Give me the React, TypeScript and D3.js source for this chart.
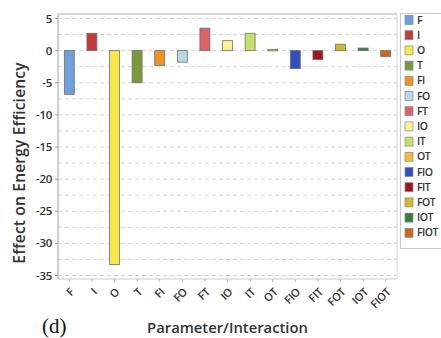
import React from "react";
import * as d3 from "d3";

const categories = ["F","I","O","T","FI","FO","FT","IO","IT","OT","FIO","FIT","FOT","IOT","FIOT"];
const effects = [-6.8, 2.7, -33.3, -5.0, -2.3, -1.8, 3.5, 1.55, 2.7, 0.2, -2.8, -1.4, 1.0, 0.4, -0.9];
const colors = ["#6f9fd8","#c4393c","#f8e748","#7a9a3a","#f0921e","#b8d8e8","#e0606a","#f8f48c","#c3e06a","#f5b945","#2f4fbf","#a0151c","#d4b92a","#3a7a45","#d0671a"];
const yTicks = [5, 0, -5, -10, -15, -20, -25, -30, -35];
const gridValues = [5, 2.5, 0, -2.5, -5, -7.5, -10, -12.5, -15, -17.5, -20, -22.5, -25, -27.5, -30, -32.5, -35];

const W = 441, H = 338;
const left = 58, right = 397, top = 14, bottom = 279;
const font = "'Open Sans', 'Noto Sans', sans-serif";

export default function App() {
  const x = d3.scaleBand<string>().domain(categories).range([left, right]).paddingInner(0.56).paddingOuter(0.28);
  const y = d3.scaleLinear().domain([-35, 5]).range([275.5, 18.5]);
  return (
    <svg width={W} height={H} style={{ position: "absolute", left: 0, top: 0, background: "#fff" }}>
      <rect x={0} y={0} width={W} height={H} fill="#fff" />
      {gridValues.map((v) => (
        <line key={"g" + v} x1={left} x2={right} y1={y(v)} y2={y(v)} stroke="#d4d4d4" strokeWidth={1} strokeDasharray="4,3" />
      ))}
      <line x1={left} x2={right} y1={top} y2={top} stroke="#c8c8c8" strokeWidth={1.5} />
      <line x1={right} x2={right} y1={top} y2={bottom} stroke="#d8d8d8" strokeWidth={1} />
      <line x1={left} x2={right} y1={bottom} y2={bottom} stroke="#c8c8c8" strokeWidth={1} />
      <line x1={left} x2={left} y1={top} y2={bottom} stroke="#b0b0b0" strokeWidth={1.2} />
      {categories.map((c, i) => {
        const v = effects[i];
        const y0 = y(Math.max(0, v));
        const h = Math.max(1.5, Math.abs(y(v) - y(0)));
        return (
          <rect key={c} x={x(c)!} y={y0} width={x.bandwidth()} height={h} fill={colors[i]} stroke="#707070" strokeWidth={0.8} />
        );
      })}
      {yTicks.map((t) => (
        <g key={"t" + t}>
          <line x1={left - 3} x2={left} y1={y(t)} y2={y(t)} stroke="#999" />
          <text x={left - 6} y={y(t)} dy="0.35em" textAnchor="end" fontFamily={font} fontSize={11.5} fontWeight={600} fill="#333" letterSpacing={-0.3}>{t}</text>
        </g>
      ))}
      {categories.map((c) => {
        const cx = x(c)! + x.bandwidth() / 2;
        return (
          <g key={"x" + c}>
            <line x1={cx} x2={cx} y1={bottom} y2={bottom + 3} stroke="#bbb" />
            <text transform={`translate(${cx + 3},${290}) rotate(-45)`} textAnchor="end" dy="0.35em" fontFamily={font} fontSize={11} fontWeight={600} fill="#333" letterSpacing={-0.3}>{c}</text>
          </g>
        );
      })}
      <text transform={`translate(25,163) rotate(-90)`} textAnchor="middle" fontFamily={font} fontSize={15.5} fontWeight={600} fill="#333" letterSpacing={0.2}>Effect on Energy Efficiency</text>
      <text x={227.5} y={333} textAnchor="middle" fontFamily={font} fontSize={14.8} fontWeight={600} fill="#333">Parameter/Interaction</text>
      <text x={42} y={333} fontFamily="'Liberation Serif', 'DejaVu Serif', serif" fontSize={21} fill="#111">(d)</text>
      <rect x={400.5} y={13.5} width={50} height={235} fill="#fff" stroke="#c8c8c8" strokeWidth={1} />
      {categories.map((c, i) => (
        <g key={"l" + c}>
          <rect x={405} y={15.5 + i * 15.2} width={8} height={9} fill={colors[i]} stroke="#8a8a8a" strokeWidth={0.7} />
          <text x={417} y={20 + i * 15.2} dy="0.35em" fontFamily={font} fontSize={10.5} fontWeight={600} fill="#333" letterSpacing={-0.5}>{c}</text>
        </g>
      ))}
    </svg>
  );
}
